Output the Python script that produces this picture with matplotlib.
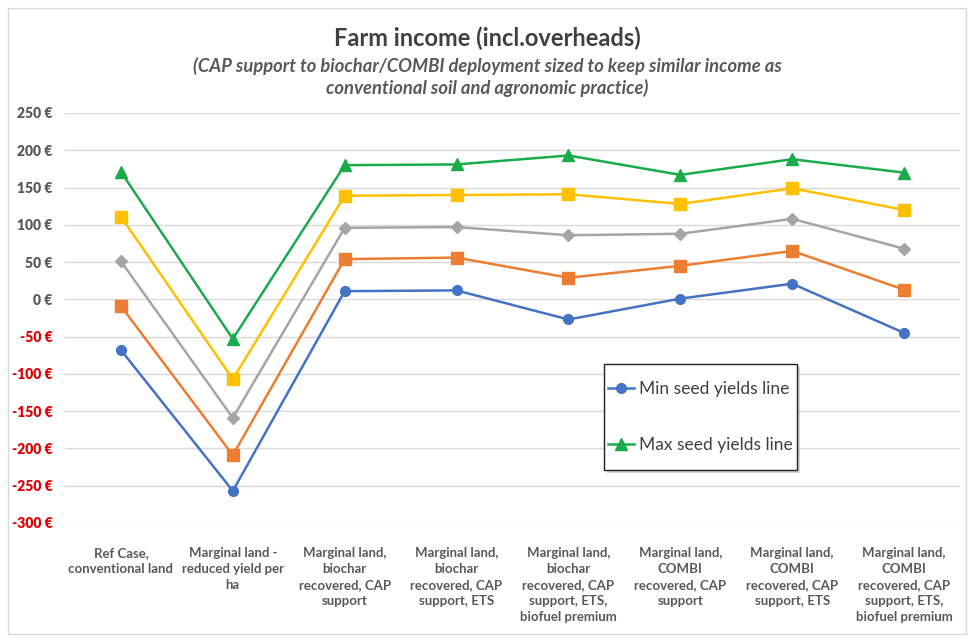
import matplotlib.pyplot as plt
from matplotlib.patches import Rectangle

plt.rcParams['font.family'] = ['Lato', 'DejaVu Sans']

categories = ["Ref Case,\nconventional land",
              "Marginal land -\nreduced yield per\nha",
              "Marginal land,\nbiochar\nrecovered, CAP\nsupport",
              "Marginal land,\nbiochar\nrecovered, CAP\nsupport, ETS",
              "Marginal land,\nbiochar\nrecovered, CAP\nsupport, ETS,\nbiofuel premium",
              "Marginal land,\nCOMBI\nrecovered, CAP\nsupport",
              "Marginal land,\nCOMBI\nrecovered, CAP\nsupport, ETS",
              "Marginal land,\nCOMBI\nrecovered, CAP\nsupport, ETS,\nbiofuel premium"]

min_line = [-68, -257, 11, 12, -27, 1, 21, -45]
low_line = [-9, -209, 54, 56, 29, 45, 65, 13]
mid_line = [51, -159, 96, 97, 86, 88, 108, 68]
high_line = [111, -107, 139, 140, 141, 128, 149, 120]
max_line = [171, -53, 180, 181, 193, 167, 188, 170]
y_ticks = list(range(-300, 251, 50))

fig = plt.figure(figsize=(9.74, 6.42), dpi=100)
ax = fig.add_axes([65/974, 1-523/642, 895/974, 410/642])

x = range(len(categories))
l_min, = ax.plot(x, min_line, color='#4472C4', lw=1.8, marker='o', ms=7)
ax.plot(x, low_line, color='#ED7D31', lw=1.8, marker='s', ms=8)
ax.plot(x, mid_line, color='#A5A5A5', lw=1.8, marker='D', ms=6)
ax.plot(x, high_line, color='#FFC000', lw=1.8, marker='s', ms=8)
l_max, = ax.plot(x, max_line, color='#1AAB4B', lw=1.8, marker='^', ms=8)

ax.set_xlim(-0.5, 7.5)
ax.set_ylim(-300, 250)
ax.set_yticks(y_ticks)
ax.set_yticklabels([f"{v} €" for v in y_ticks], fontsize=10, fontweight='heavy')
for t, v in zip(ax.get_yticklabels(), y_ticks):
    t.set_color('#E00000' if v < 0 else '#595959')
ax.grid(axis='y', color='#D9D9D9', lw=1)
ax.set_axisbelow(True)
for s in ax.spines.values():
    s.set_visible(False)
ax.tick_params(length=0)
ax.tick_params(axis='y', pad=9)

ax.set_xticks(list(x))
ax.set_xticklabels(categories, fontsize=9.5, fontweight='bold', color='#595959',
                   linespacing=1.4, va='top')
ax.tick_params(axis='x', pad=17)

fig.text(0.5, 1-38/642, "Farm income (incl.overheads)", ha='center', va='center',
         fontsize=17, fontweight='bold', color='#404040')
fig.text(0.5, 1-77/642, "(CAP support to biochar/COMBI deployment sized to keep similar income as\nconventional soil and agronomic practice)",
         ha='center', va='center', fontsize=13.2, fontweight='bold', style='italic',
         color='#595959', linespacing=1.3)

# legend box with shadow
fig.patches.append(Rectangle((607/974, 1-473/642), 193/974, 106/642, transform=fig.transFigure,
                             facecolor='#BFBFBF', edgecolor='none', alpha=0.7, zorder=5))
fig.patches.append(Rectangle((604/974, 1-470/642), 193/974, 106/642, transform=fig.transFigure,
                             facecolor='white', edgecolor='#202020', lw=1, zorder=6))
leg = fig.legend([l_min, l_max], ['Min seed yields line', 'Max seed yields line'],
                 loc='center', bbox_to_anchor=(700/974, 1-417/642),
                 fontsize=12.5, frameon=False, borderaxespad=0, borderpad=0,
                 labelspacing=2.3, handlelength=1.5, handletextpad=0.3)
leg.set_zorder(10)
for t in leg.get_texts():
    t.set_color('#404040')

fig.patches.append(Rectangle((8/974, 8/642), 958/974, 626/642, transform=fig.transFigure,
                             fill=False, edgecolor='#D9D9D9', lw=1))

fig.savefig('out.png', dpi=100)
